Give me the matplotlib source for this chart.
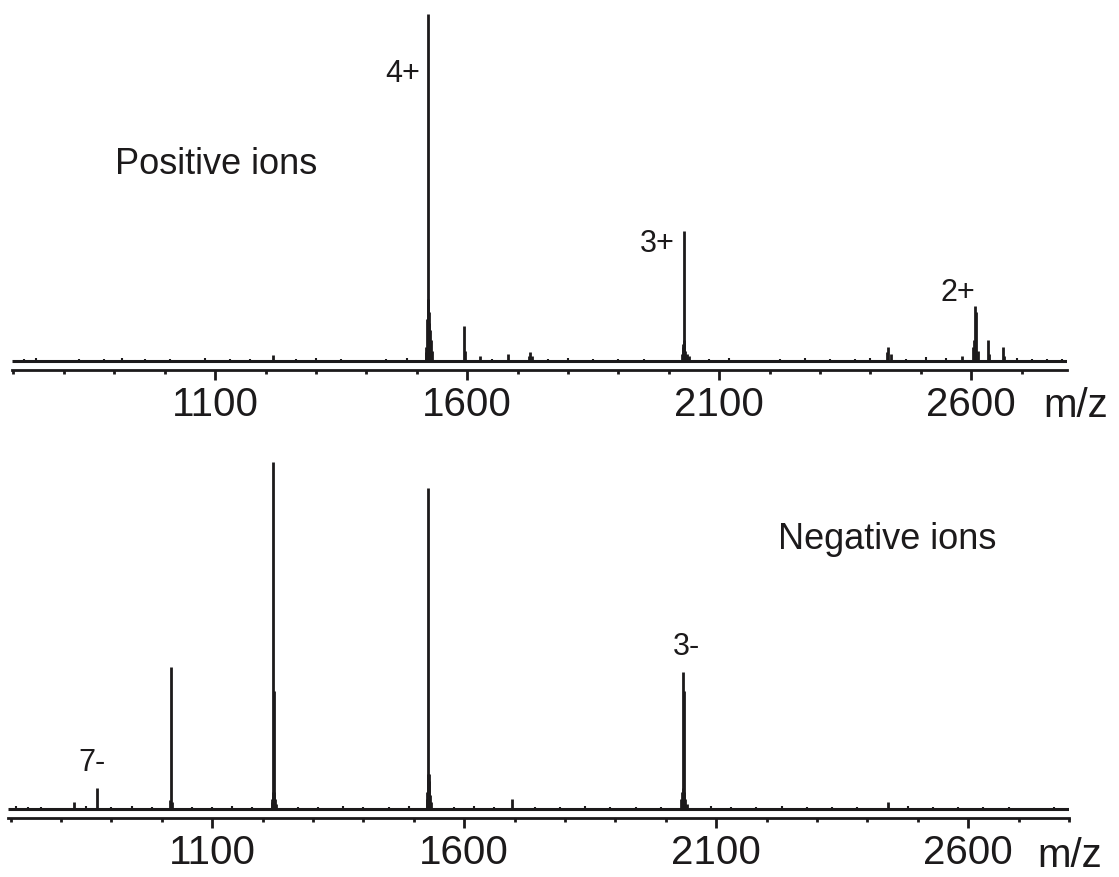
import matplotlib
matplotlib.use("Agg")
import matplotlib.pyplot as plt
from matplotlib.ticker import MultipleLocator, FixedLocator

plt.rcParams["font.family"] = ["Liberation Sans", "DejaVu Sans"]
INK = "#1c1a1b"

# --- positive ion spectrum (m/z, relative intensity) ---
pos_mz = [1215, 1518, 1519, 1521, 1522, 1523, 1524, 1525, 1526, 1528, 1530,
          1594, 1596, 1625, 1681, 1722, 1725, 1728, 2026, 2028, 2029, 2030,
          2031, 2033, 2036, 2040, 2432, 2435, 2440, 2582, 2604, 2606, 2608,
          2610, 2613, 2634, 2636, 2663, 2666]
pos_int = [1.7, 2.5, 4, 12, 18, 100, 14, 11, 9, 6, 3,
           10, 3, 1.5, 2, 1.5, 2.6, 1.5, 2, 4, 5, 37.5,
           6, 3, 2, 1.5, 2.5, 4, 2, 1.5, 4, 6, 16,
           14, 3, 6, 2, 4, 1.5]
pos_noise_mz = [720, 745, 790, 830, 880, 915, 960, 1010, 1050, 1080, 1130,
                1170, 1260, 1300, 1350, 1390, 1440, 1480, 1650, 1760, 1800,
                1850, 1900, 1950, 2080, 2120, 2170, 2220, 2270, 2320, 2370,
                2400, 2470, 2510, 2550, 2690, 2720, 2750, 2780]
pos_noise_int = [0.5, 0.8, 0.4, 0.6, 0.5, 0.9, 0.5, 0.7, 0.4, 0.8, 0.6,
                 0.7, 0.5, 0.9, 0.6, 0.4, 0.7, 1.0, 0.7, 0.5, 0.8,
                 0.6, 0.7, 0.5, 0.7, 0.9, 0.4, 0.6, 0.8, 0.5, 0.7,
                 1.0, 0.7, 1.2, 0.8, 0.9, 0.6, 0.7, 0.5]
pos_labels = ["4+", "3+", "2+"]
pos_label_mz = [1473, 1977, 2574]
pos_label_int = [83, 34, 20]

# --- negative ion spectrum ---
neg_mz = [826, 872, 1017, 1019, 1021, 1218, 1219, 1220, 1221, 1222, 1223,
          1225, 1227, 1526, 1527, 1528, 1529, 1530, 1531, 1533, 1535, 1695,
          2031, 2033, 2034, 2035, 2036, 2037, 2039, 2042, 2441]
neg_int = [2, 6, 2.5, 41, 2, 2, 3, 5, 100, 34, 5,
           3, 1.5, 3, 5, 10, 92.5, 10, 8, 4, 2, 3,
           3, 5, 6, 39.5, 34, 5, 3, 1.5, 2]
neg_noise_mz = [710, 735, 760, 800, 850, 900, 940, 980, 1060, 1100, 1140,
                1180, 1270, 1310, 1360, 1400, 1450, 1490, 1580, 1620, 1660,
                1740, 1790, 1840, 1890, 1940, 1990, 2090, 2130, 2180, 2230,
                2280, 2330, 2380, 2480, 2530, 2580, 2630, 2680, 2730, 2770]
neg_noise_int = [1.0, 0.5, 0.7, 0.4, 0.8, 0.6, 0.9, 0.5, 0.7, 0.6, 0.8,
                 0.5, 0.7, 0.6, 0.9, 0.5, 0.7, 1.0, 0.6, 0.8, 0.5,
                 0.7, 0.6, 0.9, 0.5, 0.7, 0.6, 0.8, 0.5, 0.7, 0.9,
                 0.6, 0.5, 0.7, 0.8, 0.6, 0.5, 0.7, 0.6, 0.4, 0.5]
neg_labels = ["7-", "3-"]
neg_label_mz = [862, 2042]
neg_label_int = [13.5, 47]

major_ticks = [1100, 1600, 2100, 2600]


def draw_spectrum(ax, mz, inten, noise_mz, noise_int, xlim):
    ax.plot(xlim, [0, 0], color=INK, lw=2.2, solid_capstyle="butt")
    ax.vlines(noise_mz, 0, noise_int, color=INK, lw=1.5)
    ax.vlines(mz, 0, inten, color=INK, lw=2.0)
    ax.set_xlim(*xlim)
    ax.set_ylim(-2.6, 101.5)
    for s in ["top", "left", "right"]:
        ax.spines[s].set_visible(False)
    ax.spines["bottom"].set_linewidth(2.0)
    ax.spines["bottom"].set_color(INK)
    ax.set_yticks([])
    ax.xaxis.set_major_locator(FixedLocator(major_ticks))
    ax.xaxis.set_minor_locator(MultipleLocator(100))
    ax.tick_params(axis="x", which="major", length=7, width=2, color=INK,
                   labelsize=29, pad=4, labelcolor=INK)
    ax.tick_params(axis="x", which="minor", length=3, width=2, color=INK)


fig = plt.figure(figsize=(11.19, 8.78), dpi=100)

ax1 = fig.add_axes([0.0107, 0.5774, 0.9428, 0.4112])
draw_spectrum(ax1, pos_mz, pos_int, pos_noise_mz, pos_noise_int, (697, 2790))
for lab, x, y in zip(pos_labels, pos_label_mz, pos_label_int):
    ax1.text(x, y, lab, fontsize=22, ha="center", va="center", color=INK)
ax1.text(902, 57, "Positive ions", fontsize=26, ha="left", va="center", color=INK)
fig.text(0.9325, 0.525, "m/z", fontsize=29, ha="left", va="baseline", color=INK)

ax2 = fig.add_axes([0.0072, 0.0672, 0.9481, 0.4112])
draw_spectrum(ax2, neg_mz, neg_int, neg_noise_mz, neg_noise_int, (695, 2800))
for lab, x, y in zip(neg_labels, neg_label_mz, neg_label_int):
    ax2.text(x, y, lab, fontsize=22, ha="center", va="center", color=INK)
ax2.text(2223, 78, "Negative ions", fontsize=26, ha="left", va="center", color=INK)
fig.text(0.9267, 0.0125, "m/z", fontsize=29, ha="left", va="baseline", color=INK)

fig.savefig("out.png", dpi=100)
